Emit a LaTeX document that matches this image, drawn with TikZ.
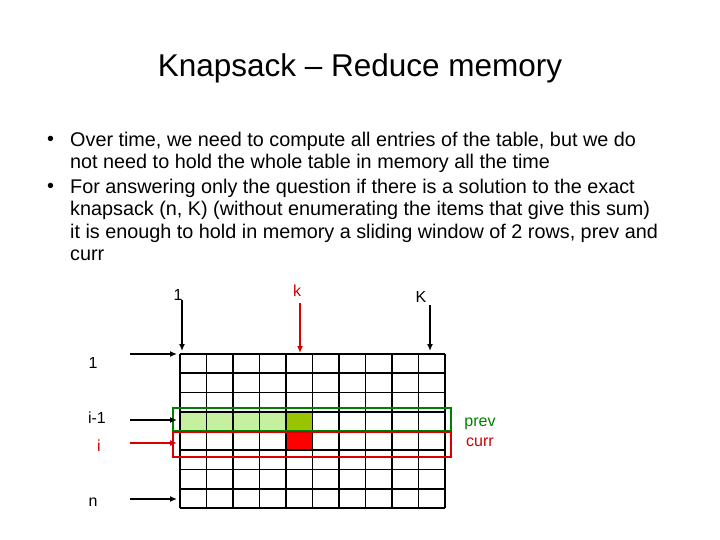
\documentclass[tikz,border=0pt]{standalone}
\usepackage{fontspec}
\usetikzlibrary{arrows.meta}
\setmainfont{Liberation Sans}
\begin{document}
\begin{tikzpicture}[x=1pt,y=-1pt,
  txt/.style={inner sep=0pt,anchor=west,font=\fontsize{19.8}{22}\selectfont},
  lbl/.style={inner sep=0pt,font=\fontsize{16}{18}\selectfont},
  arr/.style={-{Latex[length=7pt,width=6pt]},line width=1.3pt}]
\useasboundingbox[fill=white] (0,0) rectangle (720,540);
\node[inner sep=0pt,font=\fontsize{31.5}{34}\selectfont] (title) at (360,68) {Knapsack – Reduce memory};
\node[txt] (b1) at (47,141) {•};
\node[txt] (l1) at (70,141) {Over time, we need to compute all entries of the table, but we do};
\node[txt] (l2) at (70,163) {not need to hold the whole table in memory all the time};
\node[txt] (b2) at (47,188) {•};
\node[txt] (l3) at (70,188) {For answering only the question if there is a solution to the exact};
\node[txt] (l4) at (70,210) {knapsack (n, K) (without enumerating the items that give this sum)};
\node[txt] (l5) at (70,233) {it is enough to hold in memory a sliding window of 2 rows, prev and};
\node[txt] (l6) at (70,255) {curr};
\definecolor{lg}{HTML}{C4F0A0}
\definecolor{dg}{HTML}{99C400}
\foreach \c in {0,...,3}
  \fill[lg] (180+\c*26.5,411.75) rectangle (180+\c*26.5+26.5,431);
\fill[dg] (286,411.75) rectangle (312.5,431);
\fill[red] (286,431) rectangle (312.5,450.25);
\foreach \c in {0,...,10} \draw[line width=1.6pt] (180+\c*26.5,354) -- (180+\c*26.5,508);
\foreach \r in {0,...,8} \draw[line width=1.6pt] (180,354+\r*19.25) -- (445,354+\r*19.25);
\draw[line width=2pt,green!50!black] (173,408) rectangle (451,431);
\draw[line width=2pt,red!85!black] (173,432) rectangle (451,457);
\node[lbl] (t1) at (178,295) {1};
\node[lbl,red!80!black] (tk) at (297,291) {k};
\node[lbl] (tK) at (421,297) {K};
\coordinate (a1) at (182,300); \coordinate (e1) at (182,351);
\coordinate (ak) at (300,303); \coordinate (ek) at (300,353);
\coordinate (aK) at (430,305); \coordinate (eK) at (430,351);
\draw[arr] (a1) -- (e1);
\draw[arr,red!85!black] (ak) -- (ek);
\draw[arr] (aK) -- (eK);
\node[lbl] (r1) at (93,363) {1};
\node[lbl] (ri1) at (97,418) {i-1};
\node[lbl,red!80!black] (ri) at (99,446) {i};
\node[lbl] (rn) at (93,502) {n};
\coordinate (s1) at (130,354); \coordinate (f1) at (177,354);
\coordinate (s2) at (130,420); \coordinate (f2) at (177,420);
\coordinate (s3) at (130,443); \coordinate (f3) at (177,443);
\coordinate (s4) at (130,499); \coordinate (f4) at (177,499);
\draw[arr] (s1) -- (f1);
\draw[arr] (s2) -- (f2);
\draw[arr,red!85!black] (s3) -- (f3);
\draw[arr] (s4) -- (f4);
\node[lbl,green!50!black] (prev) at (480,424) {prev};
\node[lbl,red!80!black] (curr) at (480,442) {curr};
\end{tikzpicture}
\end{document}
